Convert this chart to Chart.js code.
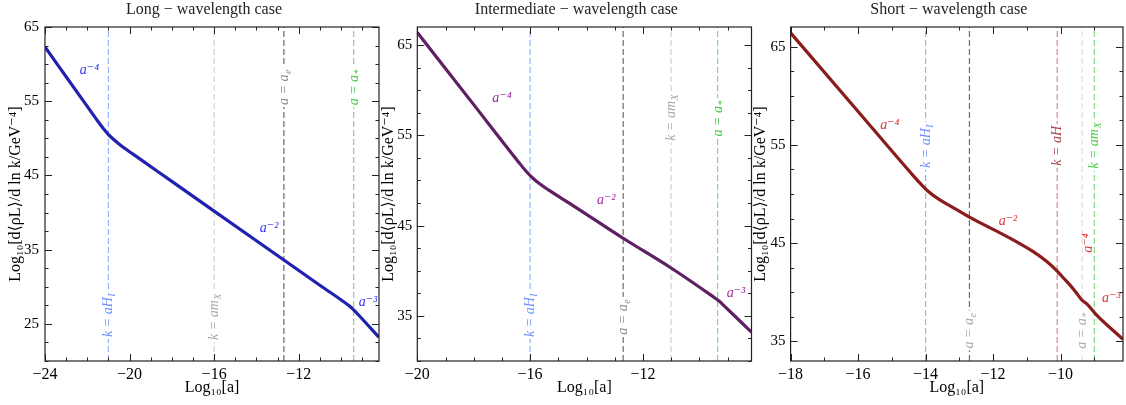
<!DOCTYPE html>
<html>
<head>
<meta charset="utf-8">
<script src="https://cdn.jsdelivr.net/npm/chart.js@4.4.0/dist/chart.umd.min.js"></script>
<style>
  body { margin: 0; background: #fff; width: 1126px; height: 405px; overflow: hidden; position: relative; }
  canvas { position: absolute; top: 0; }
</style>
</head>
<body>
<canvas id="longChart" width="383" height="405" style="left:0px"></canvas>
<canvas id="midChart" width="385" height="405" style="left:370px"></canvas>
<canvas id="shortChart" width="381" height="405" style="left:745px"></canvas>
<script>
// Long-wavelength case: log10 a vs log10 energy density
const longLogA = [-24, -23, -22, -21.5, -21.25, -21.0, -20.75, -20.5, -20.2, -19.5, -18, -16, -14, -12.7, -11, -9.6, -9.4, -9.2, -8.2];
const longRho = [62.3, 58.3, 54.3, 52.3, 51.35, 50.5, 49.85, 49.25, 48.6, 47.2, 44.2, 40.2, 36.2, 33.6, 30.2, 27.4, 26.9, 26.3, 23.2];
const longXTicks = [-24, -20, -16, -12];
const longYTicks = [25, 35, 45, 55, 65];
const longMarks = [-21, -16, -12.7, -9.4];
const longMarkText = [['k = aH', 'I'], ['k = am', 'X'], ['a = a', 'e'], ['a = a', '*']];

// Intermediate-wavelength case
const midLogA = [-20, -18, -16.4, -16.15, -15.9, -15.65, -15.35, -14.9, -14, -12.7, -11, -9.5, -9.3, -9.1, -8.15];
const midRho = [66.4, 58.4, 52.0, 51.05, 50.25, 49.6, 48.95, 48.05, 46.25, 43.6, 40.3, 37.1, 36.65, 36.05, 33.2];
const midXTicks = [-20, -16, -12];
const midYTicks = [35, 45, 55, 65];
const midMarks = [-16, -12.7, -11, -9.35];
const midMarkText = [['k = aH', 'I'], ['a = a', 'e'], ['k = am', 'X'], ['a = a', '*']];

// Short-wavelength case
const shortLogA = [-18, -16, -14.4, -14.15, -13.9, -13.6, -13.25, -12.7, -11.5, -10.8, -10.4, -10.1, -9.9, -9.7, -9.5, -9.38, -9.2, -8.95, -8.15];
const shortRho = [66.4, 58.4, 52.0, 51.05, 50.2, 49.45, 48.75, 47.65, 45.5, 44.1, 43.1, 42.15, 41.4, 40.65, 39.8, 39.25, 38.75, 37.75, 35.2];
const shortXTicks = [-18, -16, -14, -12, -10];
const shortYTicks = [35, 45, 55, 65];
const shortMarks = [-14, -12.7, -10.1, -9.36, -9.0];
const shortMarkText = [['k = aH', 'I'], ['a = a', 'e'], ['k = aH', ''], ['a = a', '*'], ['k = am', 'X']];

const slopeText = ['a\u207B\u2074', 'a\u207B\u00B2', 'a\u207B\u00B3'];

const SERIF = "'Liberation Serif', 'DejaVu Serif', serif";
Chart.defaults.font.family = SERIF;
Chart.defaults.color = '#000';

const fmt = v => v < 0 ? '\u2212' + Math.abs(v) : String(v);

const decorPlugin = {
    id: 'decor',
    afterDatasetsDraw(chart, args, opts) {
        const { ctx, chartArea: ca, scales: { x, y } } = chart;
        ctx.save();

        // labels on the dashed lines (main text + small subscript)
        opts.markLabels.forEach(m => {
            ctx.save();
            ctx.translate(x.getPixelForValue(m.x), y.getPixelForValue(m.y));
            ctx.rotate(-Math.PI / 2);
            const mainFont = 'italic 14px ' + SERIF;
            const subFont = 'italic 10px ' + SERIF;
            ctx.font = mainFont;
            const w1 = ctx.measureText(m.text[0]).width;
            ctx.font = subFont;
            const w2 = m.text[1] ? ctx.measureText(m.text[1]).width + 1 : 0;
            const w = w1 + w2;
            ctx.fillStyle = '#fff';
            ctx.fillRect(-w / 2 - 2, -6, w + 4, 12);
            ctx.fillStyle = m.color;
            ctx.textAlign = 'left';
            ctx.textBaseline = 'alphabetic';
            ctx.font = mainFont;
            ctx.fillText(m.text[0], -w / 2, 4);
            if (m.text[1]) {
                ctx.font = subFont;
                ctx.fillText(m.text[1], -w / 2 + w1 + 0.5, 7);
            }
            ctx.restore();
        });

        // power-law slope notes
        opts.slopes.forEach(s => {
            ctx.save();
            ctx.translate(x.getPixelForValue(s.x), y.getPixelForValue(s.y));
            if (s.rotate) ctx.rotate(-Math.PI / 2);
            ctx.font = 'italic 14px ' + SERIF;
            ctx.fillStyle = opts.slopeColor;
            ctx.textAlign = 'center';
            ctx.textBaseline = 'middle';
            ctx.fillText(s.text, 0, 0);
            ctx.restore();
        });

        // frame + inward ticks on all sides
        ctx.strokeStyle = '#222';
        ctx.lineWidth = 1.2;
        ctx.strokeRect(ca.left, ca.top, ca.right - ca.left, ca.bottom - ca.top);
        ctx.lineWidth = 1;
        ctx.beginPath();
        const tickX = (v, len) => {
            const px = Math.round(x.getPixelForValue(v)) + 0.5;
            ctx.moveTo(px, ca.bottom); ctx.lineTo(px, ca.bottom - len);
            ctx.moveTo(px, ca.top); ctx.lineTo(px, ca.top + len);
        };
        const tickY = (v, len) => {
            const py = Math.round(y.getPixelForValue(v)) + 0.5;
            ctx.moveTo(ca.left, py); ctx.lineTo(ca.left + len, py);
            ctx.moveTo(ca.right, py); ctx.lineTo(ca.right - len, py);
        };
        for (let v = Math.ceil(x.min); v <= x.max; v += 1) tickX(v, 3.5);
        for (let v = Math.ceil(y.min / 2.5) * 2.5; v <= y.max; v += 2.5) tickY(v, 3.5);
        x.ticks.forEach(t => tickX(t.value, 7));
        y.ticks.forEach(t => tickY(t.value, 7));
        ctx.stroke();

        // panel title
        ctx.font = '16px ' + SERIF;
        ctx.fillStyle = '#222';
        ctx.textAlign = 'center';
        ctx.textBaseline = 'middle';
        ctx.fillText(opts.title, (ca.left + ca.right) / 2 - 8, 10);
        ctx.restore();
    }
};

function makePanel(cfg) {
    const curve = {
        data: cfg.logA.map((a, i) => ({ x: a, y: cfg.rho[i] })),
        borderColor: cfg.color,
        borderWidth: 3.2,
        pointRadius: 0,
        cubicInterpolationMode: 'monotone'
    };
    const lines = cfg.marks.map((m, i) => ({
        data: [{ x: m, y: cfg.yMin }, { x: m, y: cfg.yMax }],
        borderColor: cfg.markColors[i],
        borderWidth: 1.2,
        borderDash: [6, 3],
        pointRadius: 0
    }));
    const markLabels = cfg.marks.map((m, i) => ({
        x: m, y: cfg.markLabelY[i], text: cfg.markText[i], color: cfg.markTextColors[i]
    }));

    return new Chart(document.getElementById(cfg.id), {
        type: 'line',
        data: { datasets: [curve, ...lines] },
        options: {
            responsive: false,
            animation: false,
            layout: { padding: { top: 27, right: cfg.padRight, left: 0, bottom: 0 } },
            plugins: {
                legend: { display: false },
                tooltip: { enabled: false },
                decor: { title: cfg.title, markLabels, slopes: cfg.slopes, slopeColor: cfg.slopeColor }
            },
            scales: {
                x: {
                    type: 'linear',
                    min: cfg.xMin, max: cfg.xMax,
                    grid: { display: false, drawTicks: false },
                    border: { display: false },
                    afterBuildTicks: s => { s.ticks = cfg.xTicks.map(v => ({ value: v })); },
                    afterFit: s => { s.height = 44; },
                    ticks: { font: { size: 16 }, padding: 4, maxRotation: 0, autoSkip: false, callback: fmt },
                    title: { display: true, text: 'Log\u2081\u2080[a]', font: { size: 16 }, padding: { top: 0, bottom: 8 } }
                },
                y: {
                    type: 'linear',
                    min: cfg.yMin, max: cfg.yMax,
                    grid: { display: false, drawTicks: false },
                    border: { display: false },
                    afterBuildTicks: s => { s.ticks = cfg.yTicks.map(v => ({ value: v })); },
                    afterFit: s => { s.width = cfg.yAxisWidth; },
                    ticks: { font: { size: 15 }, padding: cfg.yTickPad, autoSkip: false, callback: fmt },
                    title: {
                        display: true,
                        text: 'Log\u2081\u2080[d\u27E8\u03C1L\u27E9/d ln k/GeV\u207B\u2074]',
                        font: { size: 16 },
                        padding: { top: cfg.yTitlePad, bottom: 0 }
                    }
                }
            }
        },
        plugins: [decorPlugin]
    });
}

makePanel({
    id: 'longChart', title: 'Long \u2212 wavelength case',
    logA: longLogA, rho: longRho, color: '#2121b0',
    xMin: -24, xMax: -8.2, yMin: 20, yMax: 65,
    xTicks: longXTicks, yTicks: longYTicks,
    marks: longMarks, markText: longMarkText,
    markColors: ['#93b2ff', '#d2d2d2', '#6a6a6a', '#7ddc7d'],
    markTextColors: ['#6f8fff', '#a8a8a8', '#8c8c8c', '#44cc44'],
    markLabelY: [26.2, 26.0, 56.9, 56.9],
    slopes: [
        { x: -21.9, y: 59.2, text: slopeText[0] },
        { x: -13.4, y: 37.9, text: slopeText[1] },
        { x: -8.72, y: 27.9, text: slopeText[2] }
    ],
    slopeColor: '#3434ff',
    padRight: 4, yAxisWidth: 45, yTickPad: 6, yTitlePad: 6
});

makePanel({
    id: 'midChart', title: 'Intermediate \u2212 wavelength case',
    logA: midLogA, rho: midRho, color: '#5f1f63',
    xMin: -20, xMax: -8.15, yMin: 30, yMax: 67,
    xTicks: midXTicks, yTicks: midYTicks,
    marks: midMarks, markText: midMarkText,
    markColors: ['#93b2ff', '#6a6a6a', '#d2d2d2', '#7ddc7d'],
    markTextColors: ['#6f8fff', '#8c8c8c', '#a8a8a8', '#44cc44'],
    markLabelY: [35.1, 34.9, 57.0, 56.9],
    slopes: [
        { x: -17.0, y: 59.1, text: slopeText[0] },
        { x: -13.3, y: 47.8, text: slopeText[1] },
        { x: -8.7, y: 37.5, text: slopeText[2] }
    ],
    slopeColor: '#a22ca2',
    padRight: 3.5, yAxisWidth: 47.3, yTickPad: 5, yTitlePad: 9
});

makePanel({
    id: 'shortChart', title: 'Short \u2212 wavelength case',
    logA: shortLogA, rho: shortRho, color: '#8b1c1c',
    xMin: -18, xMax: -8.15, yMin: 33, yMax: 67,
    xTicks: shortXTicks, yTicks: shortYTicks,
    marks: shortMarks, markText: shortMarkText,
    markColors: ['#93b2ff', '#6a6a6a', '#cc8a8a', '#dedede', '#7ddc7d'],
    markTextColors: ['#6f8fff', '#a8a8a8', '#a84444', '#a8a8a8', '#44cc44'],
    markLabelY: [54.9, 36.1, 54.9, 36.1, 54.95],
    slopes: [
        { x: -15.06, y: 57.0, text: slopeText[0] },
        { x: -11.56, y: 47.2, text: slopeText[1] },
        { x: -9.19, y: 45.0, text: slopeText[0], rotate: true },
        { x: -8.5, y: 39.4, text: slopeText[2] }
    ],
    slopeColor: '#dd3535',
    padRight: 3, yAxisWidth: 45.6, yTickPad: 5, yTitlePad: 6
});
</script>
</body>
</html>
